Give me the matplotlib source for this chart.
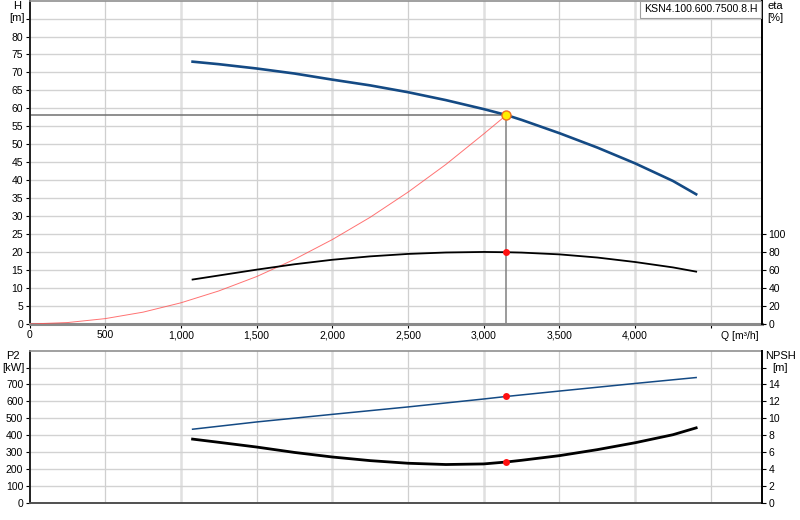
import matplotlib
matplotlib.use("Agg")
import matplotlib.pyplot as plt
from matplotlib.ticker import FixedLocator, FuncFormatter

plt.rcParams['font.family'] = ['Liberation Sans', 'DejaVu Sans']
plt.rcParams['font.size'] = 7.5

# pump data
q_curve = [1077, 1250, 1500, 1750, 2000, 2250, 2500, 2750, 3000, 3150, 3250, 3500, 3750, 4000, 4250, 4403]
head = [73.0, 72.3, 71.1, 69.7, 68.0, 66.4, 64.5, 62.3, 59.8, 58.15, 56.8, 53.1, 49.1, 44.7, 39.8, 36.1]
eta = [49.5, 54.0, 60.5, 66.5, 71.5, 75.3, 78.0, 79.6, 80.2, 79.9, 79.5, 77.5, 74.0, 69.0, 63.0, 58.3]
npsh = [7.53, 7.15, 6.59, 5.95, 5.41, 4.98, 4.67, 4.52, 4.59, 4.82, 5.02, 5.57, 6.28, 7.10, 8.05, 8.86]

q_p2 = [1077, 1500, 2000, 2500, 3000, 3150, 3500, 4000, 4403]
p2 = [435, 478, 523, 567, 614, 629, 661, 706, 741]

# system curve
q_sys = [0, 250, 500, 750, 1000, 1250, 1500, 1750, 2000, 2250, 2500, 2750, 3000, 3150]
h_sys = [0, 0.4, 1.5, 3.3, 5.9, 9.2, 13.2, 18.0, 23.5, 29.7, 36.7, 44.4, 52.9, 58.15]

# duty point
q_op = 3150
h_op = 58.15
eta_op = 79.9
p2_op = 629
npsh_op = 4.82

x_ticks = [0, 500, 1000, 1500, 2000, 2500, 3000, 3500, 4000, 4500]
x_max = 4840

fig = plt.figure(figsize=(8, 5.2), dpi=100)
ax = fig.add_axes([0.0369, 0.3769, 0.916, 0.622])
ax2 = ax.twinx()
bx = fig.add_axes([0.0369, 0.0333, 0.916, 0.2923])
bx2 = bx.twinx()

def vgrid(a):
    for q in x_ticks[1:]:
        if q % 1000 == 0:
            a.axvline(q, color='#e0e0e0', lw=1.8, zorder=0)
        else:
            a.axvline(q, color='#cfcfcf', lw=0.9, zorder=0)

# ---- top: head / efficiency
vgrid(ax)
for h in range(5, 90, 5):
    ax.axhline(h, color='#d2d2d2', lw=1.0, zorder=0)
ax.set_xlim(0, x_max)
ax.set_ylim(0, 90)
ax2.set_ylim(0, 360)

ax.plot([0, q_op], [h_op, h_op], color='#707070', lw=1.1, zorder=2)
ax.plot([q_op, q_op], [0, h_op], color='#808080', lw=1.1, zorder=2)
ax.plot(q_sys, h_sys, color='#ff5050', lw=0.7, alpha=0.8, zorder=3)
ax.plot(q_curve, head, color='#144a84', lw=1.9, zorder=4)
ax.plot(q_op, h_op, 'o', ms=6.5, mfc='#ffee00', mec='#f07020', mew=1.0, zorder=6)
ax2.plot(q_curve, eta, color='black', lw=1.3, zorder=4)
ax2.plot(q_op, eta_op, 'o', ms=5, color='#ff1010', mec='none', zorder=6)

ax.yaxis.set_major_locator(FixedLocator(range(0, 90, 5)))
ax.yaxis.set_major_formatter(FuncFormatter(lambda v, p: '' if v > 80 else '%d' % v))
ax2.yaxis.set_major_locator(FixedLocator(range(0, 101, 20)))
ax.xaxis.set_major_locator(FixedLocator(x_ticks))
ax.xaxis.set_major_formatter(FuncFormatter(lambda v, p: '' if v > 4000 else '{:,.0f}'.format(v)))

ax.text(0.0216, 1 - 6 / 520, 'H', transform=fig.transFigure, ha='center', va='center', fontsize=8)
ax.text(0.0216, 1 - 18 / 520, '[m]', transform=fig.transFigure, ha='center', va='center', fontsize=8)
ax.text(0.969, 1 - 6 / 520, 'eta', transform=fig.transFigure, ha='center', va='center', fontsize=8)
ax.text(0.969, 1 - 18 / 520, '[%]', transform=fig.transFigure, ha='center', va='center', fontsize=8)
ax.text(0.9245, 1 - 336 / 520, 'Q [m³/h]', transform=fig.transFigure, ha='center', va='center', fontsize=7.5)
ax2.text(0.8755, 1 - 9.5 / 520, 'KSN4.100.600.7500.8.H', transform=fig.transFigure,
         ha='center', va='center', fontsize=7.6,
         bbox=dict(boxstyle='square,pad=0.32', fc='white', ec='#a0a0a0', lw=0.8), zorder=10)

# ---- bottom: power / NPSH
vgrid(bx)
for p in range(100, 900, 100):
    bx.axhline(p, color='#d2d2d2', lw=1.0, zorder=0)
bx.set_xlim(0, x_max)
bx.set_ylim(0, 900)
bx2.set_ylim(0, 18)

bx.plot(q_p2, p2, color='#144a84', lw=1.1, zorder=4)
bx2.plot(q_curve, npsh, color='black', lw=2.0, zorder=4)
bx2.plot(q_op, p2_op / 50.0, 'o', ms=5, color='#ff1010', mec='none', zorder=6)
bx2.plot(q_op, npsh_op, 'o', ms=5, color='#ff1010', mec='none', zorder=6)

bx.yaxis.set_major_locator(FixedLocator(range(0, 801, 100)))
bx.yaxis.set_major_formatter(FuncFormatter(lambda v, p: '' if v > 700 else '%d' % v))
bx2.yaxis.set_major_locator(FixedLocator(range(0, 17, 2)))
bx2.yaxis.set_major_formatter(FuncFormatter(lambda v, p: '' if v > 14 else '%d' % v))
bx.set_xticks([])

bx.text(0.0166, 1 - 356 / 520, 'P2', transform=fig.transFigure, ha='center', va='center', fontsize=8)
bx.text(0.0166, 1 - 368 / 520, '[kW]', transform=fig.transFigure, ha='center', va='center', fontsize=8)
bx.text(0.975, 1 - 356 / 520, 'NPSH', transform=fig.transFigure, ha='center', va='center', fontsize=8)
bx.text(0.975, 1 - 368 / 520, '[m]', transform=fig.transFigure, ha='center', va='center', fontsize=8)

# spines and ticks
for a, a2 in ((ax, ax2), (bx, bx2)):
    for s in ('top', 'bottom', 'left', 'right'):
        a.spines[s].set_visible(False)
        a2.spines[s].set_visible(False)
    a.spines['left'].set_visible(True)
    a.spines['left'].set_color('#202020')
    a.spines['left'].set_linewidth(1.4)
    a2.spines['right'].set_visible(True)
    a2.spines['right'].set_color('black')
    a2.spines['right'].set_linewidth(1.4)
    a.spines['top'].set_visible(True)
    a.spines['top'].set_color('#909090')
    a.spines['top'].set_linewidth(1.2)
    a.spines['bottom'].set_visible(True)
    a.tick_params(axis='both', direction='out', length=3, width=0.8, pad=1.5, colors='black', labelsize=7.5)
    a2.tick_params(axis='y', direction='out', length=3, width=0.8, pad=1.5, colors='black', labelsize=7.5)

ax.spines['bottom'].set_color('#8a8a8a')
ax.spines['bottom'].set_linewidth(2.2)
bx.spines['bottom'].set_color('#505050')
bx.spines['bottom'].set_linewidth(1.4)

fig.savefig('out.png', dpi=100, facecolor='white')
